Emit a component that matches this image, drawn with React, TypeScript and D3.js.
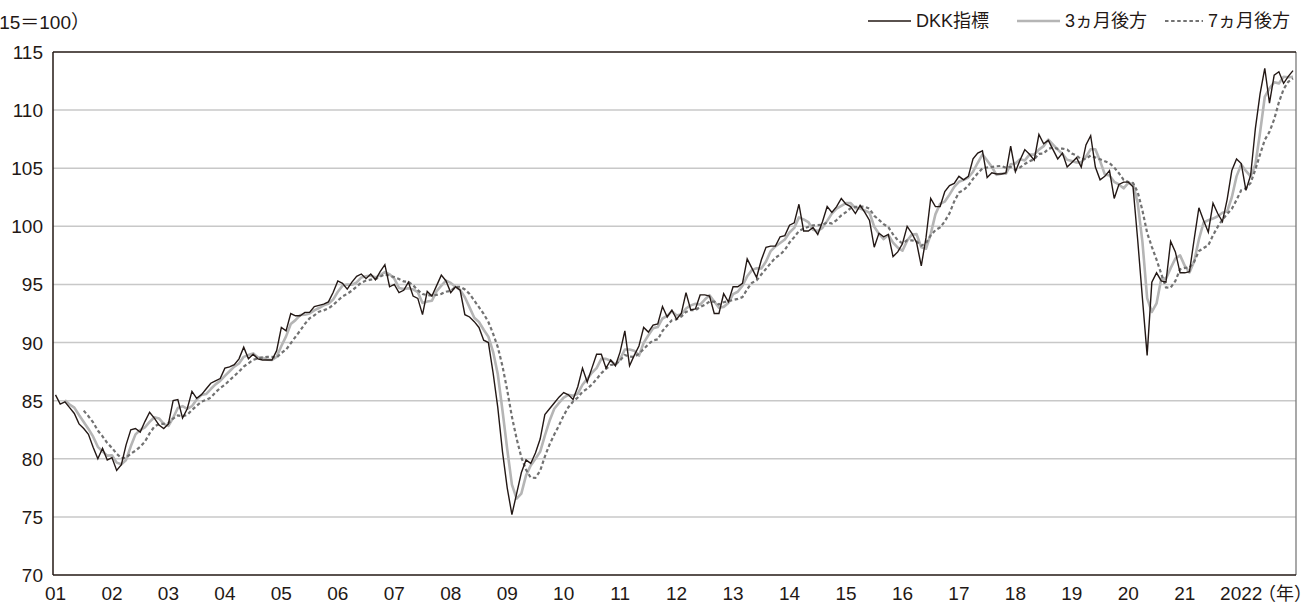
import React from 'react';
import * as d3 from 'd3';

// DKK指標 (2015=100), monthly, Jan 2001 - Dec 2022
const dkk = [
  85.5, 84.7, 84.9, 84.4, 83.9, 83.0, 82.6, 82.1, 81.0, 80.0, 80.9, 79.9,
  80.1, 79.0, 79.5, 81.2, 82.5, 82.6, 82.3, 83.2, 84.0, 83.5, 82.9, 82.6,
  83.0, 85.0, 85.1, 83.5, 84.3, 85.8, 85.2, 85.5, 86.0, 86.5, 86.7, 86.9,
  87.8, 87.9, 88.1, 88.6, 89.6, 88.6, 89.0, 88.6, 88.5, 88.5, 88.5, 89.3,
  91.3, 91.0, 92.5, 92.3, 92.3, 92.6, 92.6, 93.1, 93.2, 93.3, 93.5, 94.3,
  95.3, 95.1, 94.6, 95.2, 95.7, 95.9, 95.5, 95.9, 95.4, 96.1, 96.7, 94.8,
  95.0, 94.3, 94.5, 95.2, 94.0, 93.8, 92.4, 94.4, 94.0, 94.9, 95.8, 95.3,
  94.3, 94.8, 94.5, 92.4, 92.2, 91.8, 91.3, 90.2, 90.0, 87.4, 84.4, 80.6,
  77.5, 75.2, 77.0, 78.8, 79.9, 79.6, 80.5, 81.7, 83.8, 84.3, 84.8, 85.3,
  85.7, 85.5, 85.1, 86.2, 87.8, 86.6, 87.8, 89.0, 89.0, 87.8, 88.5, 88.0,
  89.2, 91.0, 88.0, 88.9, 89.7, 91.3, 90.9, 91.5, 91.6, 93.1, 92.2, 92.8,
  92.0, 92.5, 94.3, 92.8, 92.9, 94.1, 94.1, 94.0, 92.5, 92.5, 94.2, 93.5,
  94.8, 94.8, 95.1, 97.2, 96.4, 95.6, 97.1, 98.2, 98.3, 98.3, 99.1, 99.2,
  100.1, 100.3, 101.9, 99.6, 99.6, 99.9, 99.3, 100.4, 101.7, 101.2, 101.7, 102.4,
  101.9, 101.7, 101.1, 101.8, 101.2, 100.5, 98.2, 99.4, 99.1, 99.3, 97.4, 97.8,
  98.5, 100.0, 99.4, 98.6, 96.6, 99.0, 102.4, 101.7, 101.7, 103.0, 103.5, 103.7,
  104.3, 104.0, 104.3, 105.8, 106.3, 106.5, 104.2, 104.6, 104.5, 104.5, 104.6, 106.9,
  104.7, 105.7, 106.6, 106.2, 105.7, 107.9, 107.1, 107.4, 106.6, 105.8, 106.3, 105.1,
  105.5, 105.9, 105.1, 107.0, 107.8, 105.1, 104.0, 104.3, 104.8, 102.4, 103.6, 103.8,
  103.8, 103.4, 98.8, 93.8, 88.9, 95.2, 96.0, 95.3, 95.2, 98.7, 97.8, 96.0,
  96.0, 96.1, 98.9, 101.6, 100.5, 99.5, 102.0, 101.1, 100.4, 102.3, 104.8, 105.8,
  105.4, 103.1, 104.4, 108.4, 111.4, 113.6, 110.6, 113.0, 113.3, 112.3, 112.9, 113.4,
];

// 3ヵ月後方, monthly from Mar 2001
const ma3Start = 2;
const ma3 = [
  85.03, 84.67, 84.40, 83.77, 83.17, 82.57, 81.90, 81.03, 80.63, 80.27,
  80.30, 79.67, 79.53, 79.90, 81.07, 82.10, 82.47, 82.70, 83.17, 83.57, 83.47, 83.00,
  82.83, 83.53, 84.37, 84.53, 84.30, 84.53, 85.10, 85.50, 85.57, 86.00, 86.40, 86.70,
  87.13, 87.53, 87.93, 88.20, 88.77, 88.93, 89.07, 88.73, 88.70, 88.53, 88.50, 88.77,
  89.70, 90.53, 91.60, 91.93, 92.37, 92.40, 92.50, 92.77, 92.97, 93.20, 93.33, 93.70,
  94.37, 94.90, 95.00, 94.97, 95.17, 95.60, 95.70, 95.77, 95.60, 95.80, 96.07, 95.87,
  95.50, 94.70, 94.60, 94.67, 94.57, 94.33, 93.40, 93.53, 93.60, 94.43, 94.90, 95.33,
  95.13, 94.80, 94.53, 93.90, 93.03, 92.13, 91.77, 91.10, 90.50, 89.20, 87.27, 84.13,
  80.83, 77.77, 76.57, 77.00, 78.57, 79.43, 80.00, 80.60, 82.00, 83.27, 84.30, 84.80,
  85.27, 85.50, 85.43, 85.60, 86.37, 86.87, 87.40, 87.80, 88.60, 88.60, 88.43, 88.10,
  88.57, 89.40, 89.40, 89.30, 88.87, 89.97, 90.63, 91.23, 91.33, 92.07, 92.30, 92.70,
  92.33, 92.43, 92.93, 93.20, 93.33, 93.27, 93.70, 94.07, 93.53, 93.00, 93.07, 93.40,
  94.17, 94.37, 94.90, 95.70, 96.23, 96.40, 96.37, 96.97, 97.87, 98.27, 98.57, 98.87,
  99.47, 99.87, 100.77, 100.60, 100.37, 99.70, 99.60, 99.87, 100.47, 101.10, 101.53, 101.77,
  102.00, 102.00, 101.57, 101.53, 101.37, 101.17, 99.97, 99.37, 98.90, 99.27, 98.60, 98.17,
  97.90, 98.77, 99.30, 99.33, 98.20, 98.07, 99.33, 101.03, 101.93, 102.13, 102.73, 103.40,
  103.83, 104.00, 104.20, 104.70, 105.47, 106.20, 105.67, 105.10, 104.43, 104.53, 104.53, 105.33,
  105.40, 105.77, 105.67, 106.17, 106.17, 106.60, 106.90, 107.47, 107.03, 106.60, 106.23, 105.73,
  105.63, 105.50, 105.50, 106.00, 106.63, 106.63, 105.63, 104.47, 104.37, 103.83, 103.60, 103.27,
  103.73, 103.67, 102.00, 98.67, 93.83, 92.63, 93.37, 95.50, 95.50, 96.40, 97.23, 97.50,
  96.60, 96.03, 97.00, 98.87, 100.33, 100.53, 100.67, 100.87, 101.17, 101.27, 102.50, 104.30,
  105.33, 104.77, 104.30, 105.30, 108.07, 111.13, 111.87, 112.40, 112.30, 112.87, 112.83, 112.87,
];

// 7ヵ月後方, monthly from Jul 2001
const ma7Start = 6;
const ma7 = [
  84.14, 83.66, 83.13, 82.43, 81.93, 81.36,
  80.94, 80.43, 80.06, 80.09, 80.44, 80.69, 81.03, 81.47, 82.19, 82.76, 83.00, 83.01,
  83.07, 83.46, 83.73, 83.66, 83.77, 84.19, 84.56, 84.91, 85.06, 85.26, 85.71, 86.09,
  86.37, 86.76, 87.13, 87.50, 87.94, 88.21, 88.51, 88.63, 88.71, 88.77, 88.76, 88.71,
  89.10, 89.39, 89.94, 90.49, 91.03, 91.61, 92.09, 92.34, 92.66, 92.77, 92.94, 93.23,
  93.61, 93.97, 94.19, 94.47, 94.81, 95.16, 95.33, 95.41, 95.46, 95.67, 95.89, 95.76,
  95.63, 95.46, 95.26, 95.23, 94.93, 94.51, 94.17, 94.09, 94.04, 94.10, 94.19, 94.37,
  94.44, 94.79, 94.80, 94.57, 94.19, 93.61, 93.04, 92.46, 91.77, 90.76, 89.61, 87.96,
  85.91, 83.61, 81.73, 80.13, 79.06, 78.37, 78.36, 78.96, 80.19, 81.23, 82.09, 82.86,
  83.73, 84.44, 84.93, 85.27, 85.77, 86.03, 86.39, 86.86, 87.36, 87.74, 88.07, 88.10,
  88.47, 88.93, 88.79, 88.77, 89.04, 89.44, 89.86, 90.19, 90.27, 91.00, 91.47, 91.91,
  92.01, 92.24, 92.64, 92.81, 92.79, 93.06, 93.24, 93.53, 93.53, 93.27, 93.47, 93.56,
  93.66, 93.76, 93.91, 94.59, 95.14, 95.34, 95.86, 96.34, 96.84, 97.30, 97.57, 97.97,
  98.61, 99.07, 99.60, 99.79, 99.97, 100.09, 100.10, 100.14, 100.34, 100.24, 100.54, 100.94,
  101.23, 101.57, 101.67, 101.69, 101.69, 101.51, 100.91, 100.56, 100.19, 99.93, 99.30, 98.81,
  98.53, 98.79, 98.79, 98.71, 98.33, 98.56, 99.21, 99.67, 99.91, 100.43, 101.13, 102.14,
  102.90, 103.13, 103.50, 104.09, 104.56, 104.99, 105.06, 105.10, 105.17, 105.20, 105.03, 105.11,
  104.86, 105.07, 105.36, 105.60, 105.77, 106.24, 106.27, 106.66, 106.79, 106.67, 106.69, 106.60,
  106.26, 106.09, 105.76, 105.81, 106.10, 105.93, 105.77, 105.60, 105.44, 105.06, 104.57, 104.00,
  103.81, 103.73, 102.94, 101.37, 99.44, 98.24, 97.13, 95.91, 94.74, 94.73, 95.30, 96.31,
  96.43, 96.44, 96.96, 97.87, 98.13, 98.37, 99.23, 99.96, 100.57, 101.06, 101.51, 102.27,
  103.11, 103.27, 103.74, 104.89, 106.19, 107.44, 108.13, 109.21, 110.67, 111.80, 112.44, 112.73,
];

const yearLabels = [
  '01', '02', '03', '04', '05', '06', '07', '08', '09', '10', '11',
  '12', '13', '14', '15', '16', '17', '18', '19', '20', '21', '2022',
];
const yTicks = [70, 75, 80, 85, 90, 95, 100, 105, 110, 115];
const legendLabels = ['DKK指標', '3ヵ月後方', '7ヵ月後方'];
const unitLabel = '（2015＝100）';
const yearUnit = '（年）';

const W = 1313;
const H = 605;
const plot = { left: 53, right: 1296, top: 52, bottom: 575 };
const ink = '#231815';
const font = '"Liberation Sans", "Noto Sans CJK JP", sans-serif';

const App = () => {
  const x = d3.scaleLinear().domain([0, dkk.length - 1]).range([55.5, 1293]);
  const y = d3.scaleLinear().domain([70, 115]).range([plot.bottom, plot.top]);

  const line = (start: number) =>
    d3.line<number>()
      .x((_, i) => x(i + start))
      .y(d => y(d));

  // line styles: DKK, 3ヵ月, 7ヵ月
  const styles = [
    { stroke: ink, width: 1.4, dash: undefined },
    { stroke: '#b5b5b5', width: 2.6, dash: undefined },
    { stroke: '#727272', width: 2.2, dash: '3.5,2.6' },
  ];
  const legendPos = [
    { x1: 868, x2: 911, tx: 916 },
    { x1: 1017, x2: 1060, tx: 1065 },
    { x1: 1165, x2: 1203, tx: 1208 },
  ];

  return (
    <div style={{ position: 'absolute', left: 0, top: 0 }}>
      <svg width={W} height={H} style={{ display: 'block', background: '#fff' }} fontFamily={font}>
        {/* gridlines */}
        {yTicks.filter(t => t > 70 && t < 115).map(t => (
          <line key={t} x1={plot.left} x2={plot.right} y1={y(t)} y2={y(t)}
            stroke="#c8c8c8" strokeWidth={1.5} />
        ))}

        {/* frame */}
        <line x1={plot.right} x2={plot.right} y1={plot.top} y2={plot.bottom} stroke="#7a7a7a" strokeWidth={1.3} />
        <line x1={plot.left} x2={plot.right} y1={plot.top} y2={plot.top} stroke={ink} strokeWidth={1.3} />
        <line x1={plot.left} x2={plot.right} y1={plot.bottom} y2={plot.bottom} stroke={ink} strokeWidth={1.5} />
        <line x1={plot.left} x2={plot.left} y1={plot.top} y2={plot.bottom} stroke={ink} strokeWidth={1.5} />

        {/* series */}
        <path d={line(ma3Start)(ma3) || ''} fill="none" stroke={styles[1].stroke}
          strokeWidth={styles[1].width} strokeLinejoin="round" />
        <path d={line(ma7Start)(ma7) || ''} fill="none" stroke={styles[2].stroke}
          strokeWidth={styles[2].width} strokeDasharray={styles[2].dash} />
        <path d={line(0)(dkk) || ''} fill="none" stroke={styles[0].stroke}
          strokeWidth={styles[0].width} strokeLinejoin="miter" />

        {/* y axis labels */}
        {yTicks.map(t => (
          <text key={t} x={43} y={y(t) + 7} textAnchor="end" fontSize={19} fill={ink}>{t}</text>
        ))}

        {/* x axis labels */}
        {yearLabels.map((lab, i) => (
          <text key={lab} x={x(i * 12)} y={600} textAnchor="middle" fontSize={19} fill={ink}>{lab}</text>
        ))}
        <text x={1258} y={600} fontSize={18} fill={ink}>{yearUnit}</text>

        {/* unit (left part runs off the page, as in the source) */}
        <text x={90} y={29} textAnchor="end" fontSize={19} fill={ink}>{unitLabel}</text>

        {/* legend */}
        {legendLabels.map((lab, i) => (
          <g key={lab}>
            <line x1={legendPos[i].x1} x2={legendPos[i].x2} y1={21} y2={21}
              stroke={styles[i].stroke} strokeWidth={styles[i].width} strokeDasharray={styles[i].dash} />
            <text x={legendPos[i].tx} y={27} fontSize={18} fill={ink}>{lab}</text>
          </g>
        ))}
      </svg>
    </div>
  );
};

export default App;
